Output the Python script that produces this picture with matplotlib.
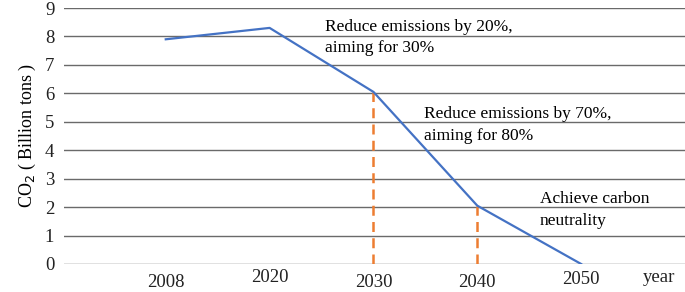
import numpy as np
import matplotlib.pyplot as plt

years = ['2008', '2020', '2030', '2040', '2050']
co2 = [7.9, 8.3, 6.05, 2.05, 0.0]
milestones = ['2030', '2040']
notes = ['Reduce emissions by 20%,\naiming for 30%',
         'Reduce emissions by 70%,\naiming for 80%',
         'Achieve carbon\nneutrality']

plt.rcParams['font.family'] = 'Liberation Serif'

fig = plt.figure(figsize=(6.85, 2.92), dpi=100)
ax = fig.add_axes([0.0934, 0.0959, 0.9066, 0.8767])

x = np.arange(len(years))
ax.plot(x, co2, color='#4472C4', lw=1.6, zorder=3)

for m in milestones:
    i = years.index(m)
    ax.plot([x[i], x[i]], [0, co2[i]], color='#ED7D31', lw=1.8,
            ls=(0, (4, 2.5)), zorder=2)

ax.set_xlim(-0.98, 5.0)
ax.set_ylim(0, 9)
ax.set_yticks(range(10))
for v in range(10):
    ax.axhline(v, color='#6a6a6a', lw=1.0, zorder=1)

# x labels drawn by hand: the original has them at uneven heights
ax.set_xticks([])
lab_pos = list(x) + [4.75]
lab_txt = years + ['year']
lab_y = [-0.074, -0.051, -0.074, -0.074, -0.059, -0.051]
for px, t, py in zip(lab_pos, lab_txt, lab_y):
    ax.text(px, py, t, transform=ax.get_xaxis_transform(), ha='center',
            va='center', fontsize=13.5, color='#222222')

ax.tick_params(axis='both', length=0, labelsize=13.5, colors='#222222')
ax.tick_params(axis='y', pad=7)
for s in ax.spines.values():
    s.set_visible(False)

ax.set_ylabel('CO$_2$ ( Billion tons )', fontsize=13, labelpad=5)

ax.text(1.53, 8.62, notes[0], fontsize=12.5, va='top', linespacing=1.45)
ax.text(2.49, 5.55, notes[1], fontsize=12.5, va='top', linespacing=1.45)
ax.text(3.6, 2.55, notes[2], fontsize=12.5, va='top', linespacing=1.45)

fig.savefig('out.png', dpi=100)
